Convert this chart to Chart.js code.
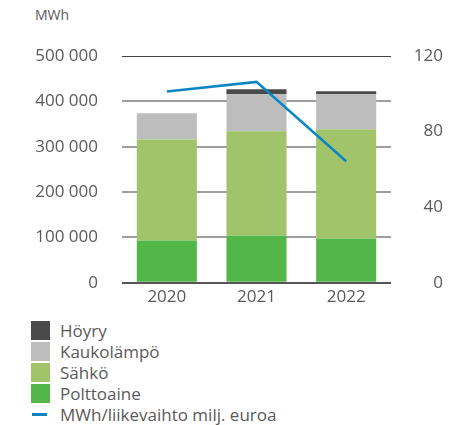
<!DOCTYPE html>
<html>
<head>
<meta charset="utf-8">
<script src="https://cdn.jsdelivr.net/npm/chart.js@4/dist/chart.umd.min.js"></script>
<style>
  html, body { margin: 0; padding: 0; background: #fff; }
  body { width: 472px; height: 425px; position: relative; overflow: hidden; font-family: "Open Sans", sans-serif; color: #5a5a5a; }
  #wrap { position: absolute; left: 0; top: 0; width: 472px; height: 317px; }
  #unit { position: absolute; left: 35px; top: 5px; font-size: 14px; color: #5a5a5a; }
  #legend { position: absolute; left: 31px; top: 320px; }
  .item { display: flex; align-items: center; height: 21px; font-size: 17px; line-height: 19px; }
  .sw { width: 19px; height: 19px; margin-right: 10px; flex: none; }
  .dash { width: 15px; height: 3px; margin: 0 13px 0 1px; flex: none; }
</style>
</head>
<body>
<div id="unit">MWh</div>
<div id="wrap"><canvas id="c"></canvas></div>
<div id="legend"></div>
<script>
const categories = ["2020", "2021", "2022"];
const polttoaine = [93000, 104000, 97300];
const sahko = [223000, 230000, 241000];
const kaukolampo = [57600, 81600, 77300];
const hoyry = [0, 11000, 6700];
const mwhPerRevenue = [101.2, 106.3, 64.3];
const leftTicks = [0, 100000, 200000, 300000, 400000, 500000];
const rightTicks = [0, 40, 80, 120];

const colors = {
  hoyry: "#4a4a4a",
  kauko: "#bdbdbd",
  sahko: "#a1c36a",
  poltto: "#52b748",
  line: "#0a86c2"
};

const fmt = v => String(v).replace(/\B(?=(\d{3})+(?!\d))/g, " ");

const barCommon = { yAxisID: "y", stack: "s", categoryPercentage: 1, barPercentage: 0.67, order: 1, borderWidth: 0 };

const chart = new Chart(document.getElementById("c"), {
  type: "bar",
  data: {
    labels: categories,
    datasets: [
      Object.assign({ label: "Polttoaine", data: polttoaine, backgroundColor: colors.poltto }, barCommon),
      Object.assign({ label: "Sähkö", data: sahko, backgroundColor: colors.sahko }, barCommon),
      Object.assign({ label: "Kaukolämpö", data: kaukolampo, backgroundColor: colors.kauko }, barCommon),
      Object.assign({ label: "Höyry", data: hoyry, backgroundColor: colors.hoyry }, barCommon),
      { type: "line", label: "MWh/liikevaihto milj. euroa", data: mwhPerRevenue, yAxisID: "y1",
        borderColor: colors.line, backgroundColor: colors.line, borderWidth: 2.5, pointRadius: 0,
        tension: 0, order: 0, fill: false }
    ]
  },
  options: {
    responsive: true,
    maintainAspectRatio: false,
    animation: false,
    layout: { padding: { left: 0, right: 29, top: 56, bottom: 4 } },
    plugins: { legend: { display: false }, tooltip: { enabled: false } },
    scales: {
      x: {
        stacked: true,
        grid: { display: false, drawTicks: false },
        border: { display: false },
        ticks: { color: "#5a5a5a", font: { family: "Open Sans", size: 17 }, padding: 4 }
      },
      y: {
        stacked: true,
        position: "left",
        min: 0, max: 500000,
        afterBuildTicks: s => { s.ticks = leftTicks.map(v => ({ value: v })); },
        afterFit: s => { s.width = 122; },
        border: { display: false },
        grid: {
          drawTicks: false,
          color: c => c.tick.value === 500000 ? "#444" : (c.tick.value === 0 ? "#555" : "#9e9e9e"),
          lineWidth: c => c.tick.value === 500000 ? 1 : 2
        },
        ticks: { color: "#5a5a5a", font: { family: "Open Sans", size: 17 }, padding: 24, callback: v => fmt(v) }
      },
      y1: {
        position: "right",
        min: 0, max: 120,
        afterBuildTicks: s => { s.ticks = rightTicks.map(v => ({ value: v })); },
        afterFit: s => { s.width = 52; },
        border: { display: false },
        grid: { display: false, drawTicks: false },
        ticks: { color: "#5a5a5a", font: { family: "Open Sans", size: 17 }, padding: 23, crossAlign: "far" }
      }
    }
  }
});

// HTML legend built from the chart datasets
const legend = document.getElementById("legend");
const ds = chart.data.datasets;
const legendOrder = [3, 2, 1, 0, 4];
legendOrder.forEach(i => {
  const d = ds[i];
  const row = document.createElement("div");
  row.className = "item";
  const mark = document.createElement("span");
  if (d.type === "line") { mark.className = "dash"; mark.style.background = d.borderColor; }
  else { mark.className = "sw"; mark.style.background = d.backgroundColor; }
  const txt = document.createElement("span");
  txt.textContent = d.label;
  row.appendChild(mark); row.appendChild(txt);
  legend.appendChild(row);
});
</script>
</body>
</html>
